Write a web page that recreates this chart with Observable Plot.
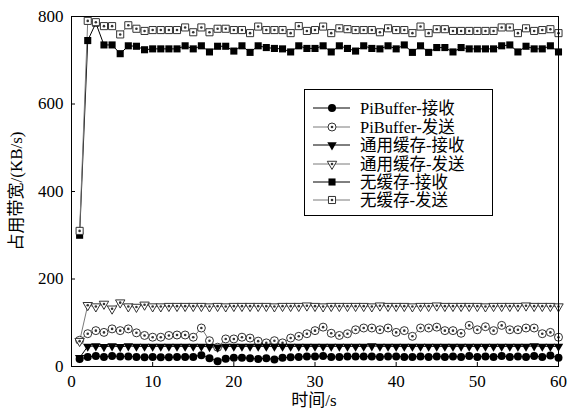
<!DOCTYPE html>
<html><head><meta charset="utf-8">
<script src="https://cdn.jsdelivr.net/npm/d3@7"></script>
<script src="https://cdn.jsdelivr.net/npm/@observablehq/plot@0.6"></script>
<style>
body{margin:0;background:#fff;}
#wrap{position:relative;width:570px;height:419px;overflow:hidden;}
#legend{position:absolute;left:304px;top:89px;}
</style></head><body><div id="wrap"></div>
<script>
const times=[1,2,3,4,5,6,7,8,9,10,11,12,13,14,15,16,17,18,19,20,21,22,23,24,25,26,27,28,29,30,31,32,33,34,35,36,37,38,39,40,41,42,43,44,45,46,47,48,49,50,51,52,53,54,55,56,57,58,59,60];
const pbRecv=[17,22,24,22,24,23,23,22,21,22,21,21,22,22,22,26,19,12,18,20,20,19,17,19,16,20,21,22,23,23,24,22,22,23,23,23,23,22,23,23,22,22,23,22,23,22,23,22,24,22,23,22,24,22,23,22,24,22,25,20];
const pbSend=[60,75,82,78,86,82,86,77,71,67,67,71,72,72,67,88,59,44,63,63,67,65,58,54,59,54,65,69,75,82,90,76,71,75,84,88,88,84,88,78,82,69,88,88,90,82,82,76,94,84,91,82,94,84,84,88,88,75,78,67];
const gcRecv=[20,46,47,45,47,45,47,46,46,46,46,46,46,46,46,46,45,44,46,46,46,46,46,46,46,46,46,46,46,46,46,46,46,46,46,46,47,46,46,46,46,46,46,46,46,46,46,46,46,46,46,46,46,46,46,46,47,46,46,46];
const gcSend=[58,140,137,143,132,146,137,136,141,137,137,138,138,138,138,138,137,138,137,138,138,138,138,138,137,138,138,138,139,138,137,138,138,138,138,138,137,139,138,138,138,137,138,138,139,138,138,138,138,138,137,138,138,138,138,139,138,138,138,137];
const nbRecv=[300,745,785,735,735,715,733,732,724,726,726,726,726,733,726,733,719,732,732,721,733,718,733,729,727,726,719,733,727,727,733,719,733,727,721,733,727,726,733,726,735,718,733,718,729,729,719,729,726,726,726,726,733,735,719,732,726,726,733,719];
const nbSend=[310,790,787,778,778,759,780,772,767,769,769,769,769,775,764,775,764,772,772,769,769,762,777,769,769,769,762,778,767,769,777,762,773,771,769,769,769,764,773,769,769,762,777,762,771,771,767,767,767,767,767,767,775,775,762,773,767,769,771,762];
const seriesNames=["PiBuffer-接收","PiBuffer-发送","通用缓存-接收","通用缓存-发送","无缓存-接收","无缓存-发送"];
const xTicks=[0,10,20,30,40,50,60];
const yTicks=[0,200,400,600,800];
const xLabel="时间/s";
const yLabel="占用带宽/(KB/s)";

const seriesValues=[pbRecv,pbSend,gcRecv,gcSend,nbRecv,nbSend];
const GREY="#7a7a7a", MGREY="#333";
const styles=[
  {symbol:"circle",r:4,fill:"#000",stroke:"none",line:"#000",rotate:0,inner:false},
  {symbol:"circle",r:4,fill:"#fff",stroke:MGREY,line:GREY,rotate:0,inner:true},
  {symbol:"triangle",r:3.5,fill:"#000",stroke:"none",line:"#000",rotate:180,inner:false},
  {symbol:"triangle",r:3.5,fill:"#fff",stroke:MGREY,line:GREY,rotate:180,inner:true},
  {symbol:"square",r:4,fill:"#000",stroke:"none",line:"#000",rotate:0,inner:false},
  {symbol:"square",r:4,fill:"#fff",stroke:MGREY,line:GREY,rotate:0,inner:true}
];
const tables=seriesValues.map((vals,i)=>times.map((t,j)=>({t,v:vals[j],s:seriesNames[i]})));

const FONT='"Liberation Serif","Noto Sans CJK SC",serif';
const marks=[];
tables.forEach((tb,i)=>{
  marks.push(Plot.line(tb,{x:"t",y:"v",stroke:styles[i].line,strokeWidth:1}));
});
tables.forEach((tb,i)=>{
  const st=styles[i];
  marks.push(Plot.dot(tb,{x:"t",y:"v",symbol:st.symbol,r:st.r,fill:st.fill,stroke:st.stroke,strokeWidth:1,rotate:st.rotate}));
  if(st.inner) marks.push(Plot.dot(tb,{x:"t",y:"v",r:1.3,fill:MGREY,stroke:"none"}));
});
marks.push(Plot.frame({stroke:"#000",strokeWidth:1}));
marks.push(Plot.axisX({ticks:xTicks,tickSize:-4,tickPadding:12,fontSize:17,label:null}));
marks.push(Plot.axisY({ticks:yTicks,tickSize:-4,tickPadding:12,fontSize:17,label:null}));

const chart=Plot.plot({
  width:570,height:419,
  marginLeft:71,marginRight:12,marginTop:16,marginBottom:53,
  style:{fontFamily:FONT,background:"#fff",color:"#000"},
  x:{domain:[0,60]},
  y:{domain:[0,800]},
  marks
});
const wrap=document.getElementById("wrap");
wrap.appendChild(chart);

// axis titles
const svg=d3.select(chart);
svg.append("text").attr("x",314).attr("y",406).attr("text-anchor","middle")
  .attr("font-family",FONT).attr("font-size",17).text(xLabel);
svg.append("text").attr("transform","translate(22,191) rotate(-90)").attr("text-anchor","middle")
  .attr("font-family",FONT).attr("font-size",17).text(yLabel);

// legend
const lg=d3.select(wrap).append("svg").attr("id","legend").attr("width",190).attr("height",128);
lg.append("rect").attr("x",0.5).attr("y",0.5).attr("width",188).attr("height",126).attr("fill","#fff").attr("stroke","#000");
const rowY=[19,38,56,75,93,111];
const symMap={circle:d3.symbolCircle,triangle:d3.symbolTriangle,square:d3.symbolSquare};
seriesNames.forEach((name,i)=>{
  const st=styles[i], y=rowY[i];
  lg.append("line").attr("x1",9).attr("x2",46).attr("y1",y).attr("y2",y).attr("stroke",st.line).attr("stroke-width",1);
  lg.append("path").attr("d",d3.symbol(symMap[st.symbol],Math.PI*st.r*st.r)())
    .attr("transform",`translate(28,${y}) rotate(${st.rotate})`)
    .attr("fill",st.fill).attr("stroke",st.stroke).attr("stroke-width",1);
  if(st.inner) lg.append("circle").attr("cx",28).attr("cy",y).attr("r",1.3).attr("fill",MGREY);
  lg.append("text").attr("x",56).attr("y",y).attr("dy","0.35em").attr("font-family",FONT).attr("font-size",16.5).text(name);
});
</script>
</body></html>
